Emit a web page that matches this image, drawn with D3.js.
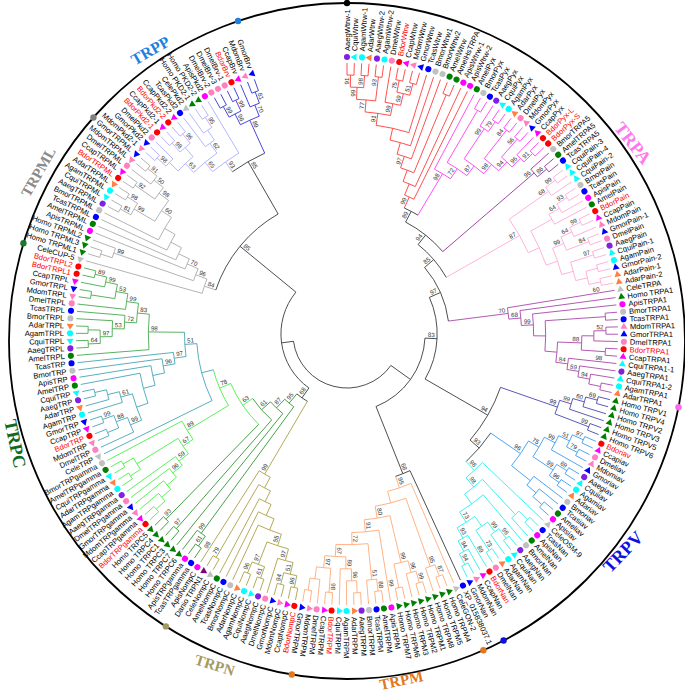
<!DOCTYPE html>
<html>
<head>
<meta charset="utf-8">
<script src="https://cdn.jsdelivr.net/npm/d3@7"></script>
<style>
  body { margin: 0; background: #fff; }
  text { font-family: "Liberation Sans", Arial, sans-serif; }
</style>
</head>
<body>
<div id="chart"></div>
<script>
// tree topology, clockwise from the top. ")NN" is a bootstrap value, "name:NN" a value printed on a tip branch
const wtrwTree = "((((((((((AaegWtrw-1,CquiWtrw)91,(AgamWtrw-1,AdarWtrw)98)99,(AaegWtrw-2,AgamWtrw-2)93)77,(DmelWtrw,((BdorWtrw,CcapWtrw)75,(MdomWtrw,GmorWtrw)51)59)99)91,TcasWtrw),BmorWtrw1),BmorWtrw2)97,(AmelWtrw,AmelHsTRPA)),ApisWtrw-1),ApisWtrw-2)99"
const pyxTree = "(AmelPyx,((BmorPyx,TcasPyx),((AaegPyx,(CquiPyx,AgamPyx)79)99,((AdarPyx,DmelPyx)84,((MdomPyx,GmorPyx)56,(CcapPyx,(BdorPyx-L,BdorPyx-S)91)96)94)98)87)72)98"
const trpa5Tree = "(BmorTRPA5,(AmelTRPA5,TcasTRPA5)86)96"
const painTree = "(((CquiPain-3,CquiPain-4)99,CquiPain-2)68,((((BmorPain,TcasPain)93,ApisPain)64,AmelPain),((((BdorPain,CcapPain)99,MdomPain)64,(GmorPain-1,DmelPain)84)99,((AaegPain,CquiPain-1)97,((AgamPain,GmorPain-2),(AdarPain-1,AdarPain-2))))))87"
const trpa1Tree = "(CeleTRPA:60,(Homo TRPA1,(ApisTRPA1,((BmorTRPA1,TcasTRPA1),((((MdomTRPA1,GmorTRPA1)52,DmelTRPA1),(BdorTRPA1,CcapTRPA1))88,(CquiTRPA1-1:98,(AaegTRPA1,(CquiTRPA1-2,(AgamTRPA1,AdarTRPA1))94)59)84)))99)68)70"
const trpvHomoTree = "((((Homo TRPV1,Homo TRPV4)69,Homo TRPV2)60,Homo TRPV3)99,(Homo TRPV5,Homo TRPV6)99)99"
const iavTree = "((((((Bdoriav,Ccapiav)97,(Dmeliav,Mdomiav)79)51,Gmoriav)99,((Aaegiav,Cquiiav)69,(Agamiav,Adariav)96)99)75,(Bmoriav,(Tcasiav,(Ameliav,Apisiav))))96)"
const nanTree = "(CeleOSM-9,(((TcasNan,ApisNan),AmelNan),(BmorNan,((((AaegNan,CquiNan)96,AgamNan)99,(AdarNan,DmelNan)73),(BdorNan:89,(CcapNan,(MdomNan,GmorNan)94)94)93)73))98)98"
const trpmTree = "(CeleGON-2,(((Homo TRPM4,Homo TRPM5)87,Homo TRPM8)95,((((Homo TRPM1,Homo TRPM2)99,Homo TRPM3)96,(Homo TRPM6,Homo TRPM7))99,(ApisTRPM:99,(((AmelTRPM,TcasTRPM)88,BmorTRPM)51,((((AaegTRPM,AdarTRPM),AgamTRPM)96,CquiTRPM)89,((BdorTRPM,CcapTRPM)98,(DmelTRPM,(MdomTRPM,GmorTRPM)))97)67)72)91)80))95"
const trpnTree = "(((((((((BdorNompC,CcapNompC)96,(MdomNompC,GmorNompC)94)51,DmelNompC)97,((AaegNompC,CquiNompC)61,(AgamNompC,AdarNompC)96)97)55,BmorNompC),TcasNompC),AmelNompC),(CeleNompC,Danio TRPN1)79),ApisNompC:98)99"
const trpcTree = "(((TcasTRPgamma,ApisTRPgamma)61,Homo TRPC6)99,(Homo TRPC7,((Homo TRPC3,Homo TRPC1)97,@trpcLime)61)87)95"
const trpcLimeTree = "(@trpc45,(@gamma,@trp)78)63"
const trpc45Tree = "(Homo TRPC4,Homo TRPC5)93"
const gammaTree = "((((((((BdorTRPgamma,CcapTRPgamma),MdomTRPgamma),GmorTRPgamma),DmelTRPgamma)96,AaegTRPgamma)59,((AgamTRPgamma,AdarTRPgamma),(CquiTRPgamma,AmelTRPgamma)))67,BmorTRPgamma)89)"
const trpTree = "(CeleTRP,((((((((DmelTRP,((MdomTRP,BdorTRP),(CcapTRP,GmorTRP)99)88)99,(AgamTRP,(AdarTRP,(AaegTRP,CquiTRP)))61),AmelTRP),ApisTRP),BmorTRP)96,TcasTRP)97),@trpl)51)"
const trplTree = "(AmelTRPL,((((((AaegTRPL,CquiTRPL)64,(AgamTRPL,AdarTRPL))97,BmorTRPL)53,TcasTRPL)72,(DmelTRPL,((MdomTRPL,GmorTRPL),(CcapTRPL,(BdorTRPL1,BdorTRPL2)89)99)53)99)83))98"
const trpmlTree = "(CeleCUP-5,(((Homo TRPML1,Homo TRPML3),Homo TRPML2)99,(ApisTRPML,(AmelTRPML,(TcasTRPML,(BmorTRPML,(((AaegTRPML,CquiTRPML)81,(AgamTRPML,AdarTRPML)98)99,((BdorTRPML,CcapTRPML)92,(DmelTRPML,(MdomTRPML,GmorTRPML)91)50)98)60))))70)96)84)99"
const pkdTree = "((((((MdomPkd2-1,GmorPkd2)98,DmelPkd2),((BdorPkd2-1,CcapPkd2-1)98,(BdorPkd2-2,CcapPkd2-2)96))63,(TcasPkd2,(CelePkd2,(Homo PKD2-1,Homo PKD2-2)95))62)65,ApisPkd2)93)"
const brvTree = "(((DmelBrv-2,DmelBrv-3)99,(DmelBrv-1,BdorBrv)99)96,(CcapBrv,(MdomBrv,GmorBrv)81)70)89"
const backbone = "(((((((@wtrw,@pyx)89,@trpa5)94,@pain)85,@trpa1)97,(@trpvHomo,(@iav,@nan)93)94)83,(XP_015838037.1,@trpm)68),((@trpn,@trpc)68,(@trpml,(@pkd,@brv)85)85))"

const clades = {
  wtrw: wtrwTree, pyx: pyxTree, trpa5: trpa5Tree, pain: painTree, trpa1: trpa1Tree,
  trpvHomo: trpvHomoTree, iav: iavTree, nan: nanTree, trpm: trpmTree, trpn: trpnTree,
  trpc: trpcTree, trpcLime: trpcLimeTree, trpc45: trpc45Tree, gamma: gammaTree,
  trp: trpTree, trpl: trplTree, trpml: trpmlTree, pkd: pkdTree, brv: brvTree
}

const familyNames = ["TRPA", "TRPV", "TRPM", "TRPN", "TRPC", "TRPML", "TRPP"]
const familyAngles = [55.3, 127.4, 170.9, 202.2, 252.8, 298.7, 325.9]

const ringAngles = [0, 101.3, 152.4, 156.2, 189.4, 212.4, 286.8, 311.4, 341.2]

// styles and label placement
const familySizes = [18, 18, 15, 15, 18, 15, 16]
const familyRadii = [348, 347, 343.5, 350, 347, 352, 351]
const familyTilts = [52, -46, -12, 17, 78, -60, -30]
const cladeColors = {
  wtrw: "#ff3c3c", pyx: "#ff3cf5", trpa5: "#96329b", pain: "#ffaad7", trpa1: "#aa46aa",
  trpvHomo: "#4646b4", iav: "#3c9bf0", nan: "#28f0f0", trpm: "#ffaa78", trpn: "#aaa046",
  trpc: "#329632", trpcLime: "#46f046", trpc45: "#329632", gamma: "#46f046",
  trp: "#46a5b9", trpl: "#46aa50", trpml: "#aaaaaa", pkd: "#aeaeff", brv: "#3232dc"
}
const familyColors = ["#ff78ee", "#1010e0", "#e07820", "#a39a62", "#0f6b1f", "#8a8a8a", "#1f7fe0"]
const ringColors = ["#000", "#ff66ee", "#1010e0", "#e07820", "#e07820", "#a39a62", "#1a7a2a", "#808080", "#1f7fe0"]
const speciesStyle = {
  Aaeg: ["#8020e0", "c"], Cqui: ["#00ffff", "t"], Agam: ["#00ffff", "c"], Adar: ["#ff8040", "t"],
  Dmel: ["#ff80c0", "c"], Bdor: ["#ff0000", "c"], Ccap: ["#ff00ff", "t"], Mdom: ["#ff80c0", "t"],
  Gmor: ["#0000ff", "t"], Tcas: ["#0000ff", "c"], Bmor: ["#c0c0c0", "c"], Amel: ["#008000", "c"],
  Apis: ["#ff00ff", "c"], Homo: ["#008000", "t"], Cele: ["#c0c0c0", "t"], Dani: ["#800080", "t"],
  "XP_0": ["#0000ff", "c"]
}

function parseTree(s) {
  let i = 0
  function read() {
    if (s[i] === "(") {
      i++
      const children = [read()]
      while (s[i] === ",") { i++; children.push(read()) }
      i++
      let boot = ""
      while (i < s.length && /\d/.test(s[i])) boot += s[i++]
      return children.length === 1 && !boot ? children[0] : { children, boot }
    }
    let t = ""
    while (i < s.length && !",()".includes(s[i])) t += s[i++]
    if (t[0] === "@") {
      const key = t.slice(1), sub = parseTree(clades[key])
      paint(sub, key)
      return sub
    }
    const [name, boot] = t.split(":")
    return { name, boot }
  }
  return read()
}

function paint(n, key) {
  if (!n.clade) n.clade = key
  if (n.children) n.children.forEach(c => paint(c, key))
}

const width = 685, height = 693

const root = d3.hierarchy(parseTree(backbone))
const leaves = root.leaves()

let angle = d3.scalePoint()
    .domain(leaves.map(d => d.data.name))
    .range([0, 340])

let radius = d3.scaleLinear()
    .domain([0, root.height])
    .range([271, 54])

root.eachAfter(d => {
  d.a = d.children
    ? (d.children[0].a + d.children[d.children.length - 1].a) / 2
    : angle(d.data.name)
  d.r = radius(d.height)
})

const rad = a => a * Math.PI / 180
const px = (a, r) => r * Math.sin(rad(a))
const py = (a, r) => -r * Math.cos(rad(a))
const colorOf = d => cladeColors[d.data.clade] || "#3a3a3a"

const svg = d3.select("#chart")
  .append("svg")
    .attr("width", width)
    .attr("height", height)

// outer ring, a little lower than the tree
const ring = svg.append("g").attr("transform", "translate(347,341)")
ring.append("circle")
    .attr("r", 338)
    .attr("fill", "none")
    .attr("stroke", "#000")
    .attr("stroke-width", 1.8)
ring.selectAll(".dot")
  .data(ringAngles)
  .join("circle")
    .attr("class", "dot")
    .attr("cx", d => px(d, 338))
    .attr("cy", d => py(d, 338))
    .attr("r", 3.2)
    .attr("fill", (d, i) => ringColors[i])

ring.selectAll(".family")
  .data(familyNames)
  .join("text")
    .attr("class", "family")
    .attr("transform", (d, i) => {
      const a = familyAngles[i], r = familyRadii[i]
      return `translate(${px(a, r)},${py(a, r)}) rotate(${familyTilts[i]})`
    })
    .attr("text-anchor", "middle")
    .attr("dy", "0.35em")
    .style("font-family", '"Liberation Serif", serif')
    .style("font-weight", "bold")
    .style("font-size", (d, i) => familySizes[i] + "px")
    .attr("fill", (d, i) => familyColors[i])
    .text(d => d)

const tree = svg.append("g").attr("transform", "translate(347,334)")

// stems
tree.append("g")
  .selectAll("line")
  .data(root.descendants().filter(d => d.parent))
  .join("line")
    .attr("x1", d => px(d.a, d.parent.r))
    .attr("y1", d => py(d.a, d.parent.r))
    .attr("x2", d => px(d.a, d.r))
    .attr("y2", d => py(d.a, d.r))
    .attr("stroke", colorOf)
    .attr("stroke-width", 0.9)

// arcs across the children
tree.append("g")
  .selectAll("path")
  .data(root.descendants().filter(d => d.children))
  .join("path")
    .attr("d", d => {
      const p = d3.path()
      p.arc(0, 0, d.r, rad(d.children[0].a - 90), rad(d.children[d.children.length - 1].a - 90))
      return p.toString()
    })
    .attr("fill", "none")
    .attr("stroke", colorOf)
    .attr("stroke-width", 0.9)

// bootstrap values
tree.append("g")
  .selectAll("text")
  .data(root.descendants().filter(d => d.data.boot))
  .join("text")
    .attr("transform", d => {
      const r = (d.children ? d.r : radius(1)) - 6
      return d.a <= 190.2
        ? `rotate(${d.a - 90}) translate(${r},-1.5)`
        : `rotate(${d.a + 90}) translate(${-r},-1.5)`
    })
    .attr("text-anchor", "middle")
    .attr("fill", "#333")
    .style("font-size", "6.2px")
    .text(d => d.data.boot)

// tip markers
tree.append("g")
  .selectAll("path")
  .data(leaves)
  .join("path")
    .attr("transform", d => `translate(${px(d.a, 277)},${py(d.a, 277)}) rotate(${d.a - 90})`)
    .attr("d", d => {
      const shape = speciesStyle[d.data.name.slice(0, 4)][1]
      return d3.symbol().type(shape === "t" ? d3.symbolTriangle : d3.symbolCircle).size(shape === "t" ? 21 : 29)()
    })
    .attr("fill", d => speciesStyle[d.data.name.slice(0, 4)][0])

// tip labels
tree.append("g")
  .selectAll("text")
  .data(leaves)
  .join("text")
    .attr("transform", d => d.a <= 190.2
      ? `rotate(${d.a - 90}) translate(283,0)`
      : `rotate(${d.a + 90}) translate(-283,0)`)
    .attr("text-anchor", d => d.a <= 190.2 ? "start" : "end")
    .attr("dy", "0.35em")
    .attr("fill", d => d.data.name.startsWith("Bdor") ? "#ff0000" : "#000")
    .style("font-size", "7.6px")
    .text(d => d.data.name)
</script>
</body>
</html>
